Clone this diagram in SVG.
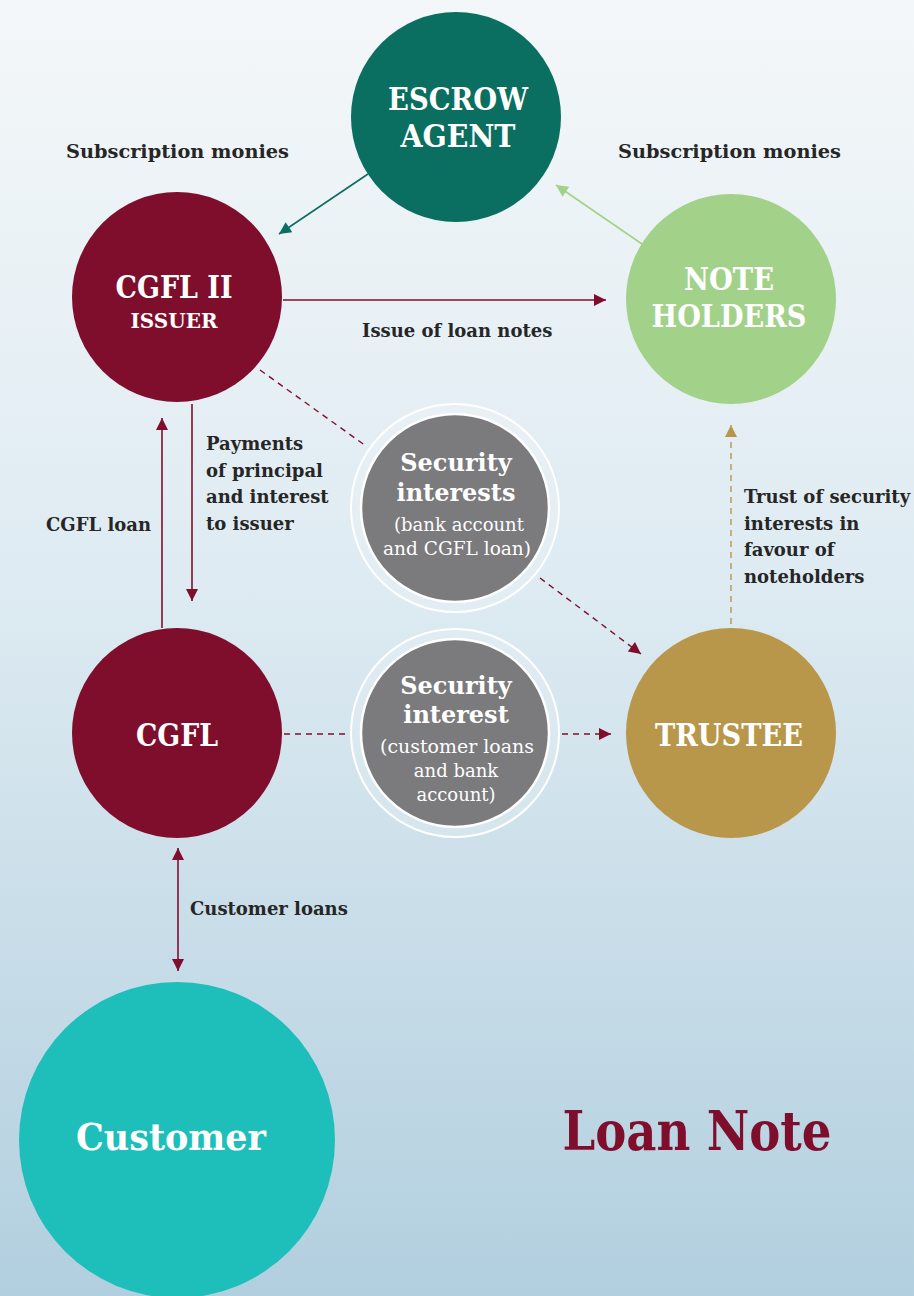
<svg xmlns="http://www.w3.org/2000/svg" width="914" height="1296" viewBox="0 0 914 1296">
  <defs>
    <linearGradient id="bg" x1="0" y1="0" x2="0" y2="1">
      <stop offset="0" stop-color="#f4f7f9"/>
      <stop offset="0.45" stop-color="#deebf2"/>
      <stop offset="1" stop-color="#b2cfdf"/>
    </linearGradient>
    <marker id="ahMaroon" viewBox="0 0 10 10" refX="10" refY="5" markerWidth="18" markerHeight="12" markerUnits="userSpaceOnUse" orient="auto-start-reverse">
      <path d="M0,0 L10,5 L0,10 z" fill="#7f0e2d"/>
    </marker>
    <marker id="ahTeal" viewBox="0 0 10 10" refX="10" refY="5" markerWidth="18" markerHeight="12" markerUnits="userSpaceOnUse" orient="auto">
      <path d="M0,0 L10,5 L0,10 z" fill="#0a6e60"/>
    </marker>
    <marker id="ahGreen" viewBox="0 0 10 10" refX="10" refY="5" markerWidth="18" markerHeight="12" markerUnits="userSpaceOnUse" orient="auto">
      <path d="M0,0 L10,5 L0,10 z" fill="#a2d28a"/>
    </marker>
    <marker id="ahGold" viewBox="0 0 10 10" refX="10" refY="5" markerWidth="18" markerHeight="12" markerUnits="userSpaceOnUse" orient="auto">
      <path d="M0,0 L10,5 L0,10 z" fill="#b8974a"/>
    </marker>
  </defs>
  <style>
    text { font-family: "DejaVu Serif", "Liberation Serif", serif; }
    .lbl { font-size: 18px; font-weight: bold; fill: #262626; }
    .big { font-size: 32px; font-weight: bold; fill: #ffffff; text-anchor: middle; }
    .sec { font-size: 24px; font-weight: bold; fill: #ffffff; text-anchor: middle; }
    .sub { font-size: 18px; fill: #ffffff; text-anchor: middle; }
    .solid { fill: none; stroke-width: 1.6; }
    .dash { fill: none; stroke-width: 1.4; stroke-dasharray: 6 5; }
  </style>

  <rect width="914" height="1296" fill="url(#bg)"/>

  <!-- connectors -->
  <g id="connectors">
    <line class="solid" x1="368" y1="174" x2="279" y2="234" stroke="#0a6e60" marker-end="url(#ahTeal)"/>
    <line class="solid" x1="642" y1="244" x2="556" y2="185" stroke="#a2d28a" marker-end="url(#ahGreen)"/>
    <line class="solid" x1="283" y1="300" x2="606" y2="300" stroke="#7f0e2d" marker-end="url(#ahMaroon)"/>
    <line class="solid" x1="162" y1="628" x2="162" y2="418" stroke="#7f0e2d" marker-end="url(#ahMaroon)"/>
    <line class="solid" x1="192" y1="404" x2="192" y2="601" stroke="#7f0e2d" marker-end="url(#ahMaroon)"/>
    <line class="solid" x1="178" y1="848" x2="178" y2="971" stroke="#7f0e2d" marker-start="url(#ahMaroon)" marker-end="url(#ahMaroon)"/>
    <line class="dash" x1="260" y1="370" x2="366" y2="446" stroke="#7f0e2d"/>
    <line class="dash" x1="540" y1="578" x2="641" y2="654" stroke="#7f0e2d" marker-end="url(#ahMaroon)"/>
    <line class="dash" x1="284" y1="734" x2="352" y2="734" stroke="#7f0e2d"/>
    <line class="dash" x1="562" y1="734" x2="611" y2="734" stroke="#7f0e2d" marker-end="url(#ahMaroon)"/>
    <line class="dash" x1="731" y1="624" x2="731" y2="425" stroke="#b8974a" marker-end="url(#ahGold)"/>
  </g>

  <!-- connector labels -->
  <g id="labels">
    <text class="lbl" x="66" y="158" textLength="223" lengthAdjust="spacingAndGlyphs">Subscription monies</text>
    <text class="lbl" x="618" y="158" textLength="223" lengthAdjust="spacingAndGlyphs">Subscription monies</text>
    <text class="lbl" x="362" y="337">Issue of loan notes</text>
    <text class="lbl" x="206" y="450">Payments</text>
    <text class="lbl" x="206" y="477">of principal</text>
    <text class="lbl" x="206" y="503">and interest</text>
    <text class="lbl" x="206" y="530">to issuer</text>
    <text class="lbl" x="46" y="531">CGFL loan</text>
    <text class="lbl" x="744" y="503">Trust of security</text>
    <text class="lbl" x="744" y="530">interests in</text>
    <text class="lbl" x="744" y="556">favour of</text>
    <text class="lbl" x="744" y="583">noteholders</text>
    <text class="lbl" x="190" y="915">Customer loans</text>
  </g>

  <g id="escrow">
    <circle cx="456" cy="117" r="105" fill="#0a6e60"/>
    <text class="big" x="458" y="110" textLength="140" lengthAdjust="spacingAndGlyphs">ESCROW</text>
    <text class="big" x="458" y="147" textLength="115" lengthAdjust="spacingAndGlyphs">AGENT</text>
  </g>

  <g id="issuer">
    <circle cx="177" cy="297" r="105" fill="#7f0e2d"/>
    <text class="big" x="174" y="298" textLength="117" lengthAdjust="spacingAndGlyphs">CGFL II</text>
    <text class="big" x="174" y="328" style="font-size:21px" textLength="87" lengthAdjust="spacingAndGlyphs">ISSUER</text>
  </g>

  <g id="noteholders">
    <circle cx="731" cy="299" r="105" fill="#a2d28a"/>
    <text class="big" x="729" y="290" textLength="90" lengthAdjust="spacingAndGlyphs">NOTE</text>
    <text class="big" x="729" y="327" textLength="155" lengthAdjust="spacingAndGlyphs">HOLDERS</text>
  </g>

  <g id="security-top">
    <circle cx="455" cy="508" r="104" fill="#ffffff" fill-opacity="0.15" stroke="#ffffff" stroke-width="2"/>
    <circle cx="455" cy="508" r="94" fill="#7b7a7c" stroke="#ffffff" stroke-width="2.5"/>
    <text class="sec" x="456" y="471">Security</text>
    <text class="sec" x="456" y="501">interests</text>
    <text class="sub" x="459" y="531" textLength="130" lengthAdjust="spacingAndGlyphs">(bank account</text>
    <text class="sub" x="457" y="555" textLength="148" lengthAdjust="spacingAndGlyphs">and CGFL loan)</text>
  </g>

  <g id="cgfl">
    <circle cx="177" cy="733" r="105" fill="#7f0e2d"/>
    <text class="big" x="177" y="746" textLength="82" lengthAdjust="spacingAndGlyphs">CGFL</text>
  </g>

  <g id="security-bottom">
    <circle cx="455" cy="733" r="104" fill="#ffffff" fill-opacity="0.15" stroke="#ffffff" stroke-width="2"/>
    <circle cx="455" cy="733" r="94" fill="#7b7a7c" stroke="#ffffff" stroke-width="2.5"/>
    <text class="sec" x="456" y="694">Security</text>
    <text class="sec" x="456" y="723">interest</text>
    <text class="sub" x="457" y="753" textLength="154" lengthAdjust="spacingAndGlyphs">(customer loans</text>
    <text class="sub" x="456" y="777">and bank</text>
    <text class="sub" x="456" y="801">account)</text>
  </g>

  <g id="trustee">
    <circle cx="731" cy="733" r="105" fill="#b8974a"/>
    <text class="big" x="729" y="746" textLength="148" lengthAdjust="spacingAndGlyphs">TRUSTEE</text>
  </g>

  <g id="customer">
    <circle cx="177" cy="1140" r="158" fill="#1ebfbb"/>
    <text class="big" x="171" y="1150" style="font-size:37px" textLength="190" lengthAdjust="spacingAndGlyphs">Customer</text>
  </g>

  <g id="title">
    <text x="697" y="1150" text-anchor="middle" style="font-size:54px;font-weight:bold;fill:#7f0e2d" textLength="269" lengthAdjust="spacingAndGlyphs">Loan Note</text>
  </g>
</svg>
